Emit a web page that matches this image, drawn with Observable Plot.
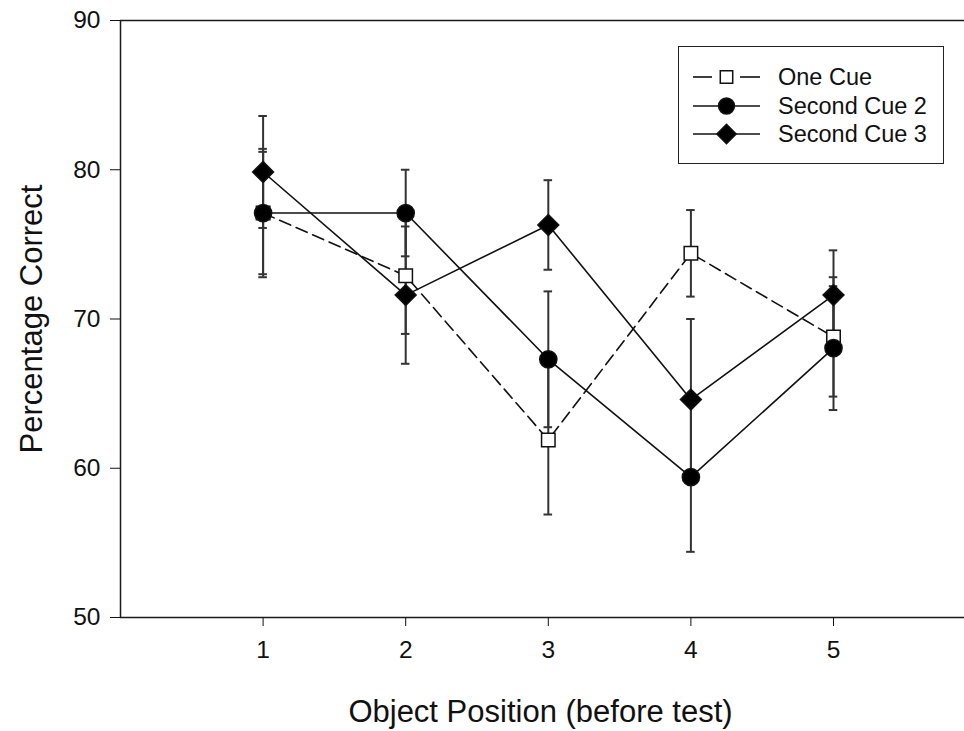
<!DOCTYPE html>
<html><head><meta charset="utf-8">
<script src="https://cdn.jsdelivr.net/npm/d3@7"></script>
<script src="https://cdn.jsdelivr.net/npm/@observablehq/plot@0.6"></script>
<style>
body{margin:0;background:#fff;font-family:"Liberation Sans",Arial,sans-serif}
#wrap{position:relative;width:964px;height:731px;overflow:hidden}
#legend{position:absolute;left:678px;top:46px;width:266px;height:118px;border:1.5px solid #222;background:#fff;box-sizing:border-box}
.row{position:absolute;left:0;height:28px;width:100%}
.row svg{position:absolute;left:13px;top:0}
.row span{position:absolute;left:99px;top:0;line-height:28px;font-size:23.5px;color:#111;white-space:nowrap}
</style></head>
<body><div id="wrap"><div id="chart"></div><div id="legend"></div></div>
<script>
// Data
const positions = [1, 2, 3, 4, 5];
const seriesNames = ["One Cue", "Second Cue 2", "Second Cue 3"];
const oneCue      = [77.1, 72.9, 61.9, 74.4, 68.8];
const oneCueErr   = [4.1, 3.9, 5.0, 2.9, 4.0];
const secondCue2    = [77.1, 77.1, 67.3, 59.4, 68.05];
const secondCue2Err = [4.3, 2.9, 4.55, 5.0, 4.15];
const secondCue3    = [79.85, 71.6, 76.3, 64.6, 71.6];
const secondCue3Err = [3.75, 4.6, 3.0, 5.4, 3.0];
const yTicks = [50, 60, 70, 80, 90];
const xTicks = [1, 2, 3, 4, 5];
const xTitle = "Object Position (before test)";
const yTitle = "Percentage Correct";

const styles = {
  "One Cue":      {symbol: "square",   r: 7.6, fill: "#fff", dash: "12,6"},
  "Second Cue 2": {symbol: "circle",   r: 8.6, fill: "#000", dash: null},
  "Second Cue 3": {symbol: "diamond2", r: 9.4, fill: "#000", dash: null}
};

const values = [oneCue, secondCue2, secondCue3];
const errs = [oneCueErr, secondCue2Err, secondCue3Err];
const table = [];
seriesNames.forEach((s, i) => positions.forEach((x, j) => {
  table.push({series: s, x, y: values[i][j], lo: values[i][j] - errs[i][j], hi: values[i][j] + errs[i][j]});
}));
const capHalf = 0.03;

const marks = [
  Plot.ruleY([yTicks[0], yTicks[yTicks.length - 1]], {stroke: "#1a1a1a", strokeWidth: 1.5}),
  Plot.ruleX([0], {stroke: "#1a1a1a", strokeWidth: 1.5}),
  Plot.axisY({ticks: yTicks, tickSize: 10, tickPadding: 10, fontSize: 24.5, label: null, tickFormat: d => d}),
  Plot.axisX({ticks: xTicks, tickSize: 9, tickPadding: 14, fontSize: 24.5, label: null, tickFormat: d => d}),
];
seriesNames.forEach(s => {
  const st = styles[s];
  marks.push(Plot.line(table.filter(d => d.series === s), {x: "x", y: "y", stroke: "#111", strokeWidth: 1.6, strokeDasharray: st.dash || undefined}));
});
marks.push(
  Plot.ruleX(table, {x: "x", y1: "lo", y2: "hi", stroke: "#333", strokeWidth: 2}),
  Plot.ruleY(table, {y: "hi", x1: d => d.x - capHalf, x2: d => d.x + capHalf, stroke: "#333", strokeWidth: 2}),
  Plot.ruleY(table, {y: "lo", x1: d => d.x - capHalf, x2: d => d.x + capHalf, stroke: "#333", strokeWidth: 2})
);
seriesNames.forEach(s => {
  const st = styles[s];
  marks.push(Plot.dot(table.filter(d => d.series === s), {x: "x", y: "y", symbol: st.symbol, r: st.r, fill: st.fill, stroke: "#111", strokeWidth: 1.5}));
});
marks.push(
  Plot.text([yTitle], {frameAnchor: "left", textAnchor: "middle", dx: -88, rotate: -90, fontSize: 31, fill: "#111"}),
  Plot.text([xTitle], {frameAnchor: "bottom", dy: 95, dx: -2, fontSize: 31, fill: "#111", lineAnchor: "middle"})
);

const chart = Plot.plot({
  width: 964, height: 731,
  marginTop: 20, marginBottom: 114, marginLeft: 120, marginRight: 0,
  style: {fontFamily: "'Liberation Sans', Arial, sans-serif", fontSize: "24.5px", color: "#111", background: "#fff", overflow: "hidden"},
  x: {domain: [0, 6], range: [120, 975.6]},
  y: {domain: [50, 90]},
  marks
});
document.getElementById("chart").appendChild(chart);

// Legend
const legend = document.getElementById("legend");
seriesNames.forEach((s, i) => {
  const st = styles[s];
  const row = document.createElement("div");
  row.className = "row";
  row.style.top = (16 + i * 28.5) + "px";
  const ns = "http://www.w3.org/2000/svg";
  const svg = document.createElementNS(ns, "svg");
  svg.setAttribute("width", 72); svg.setAttribute("height", 28);
  const g = d3.select(svg);
  if (st.dash) {
    g.append("line").attr("x1", 1).attr("x2", 20).attr("y1", 14).attr("y2", 14).attr("stroke", "#111").attr("stroke-width", 1.6);
    g.append("line").attr("x1", 48).attr("x2", 68).attr("y1", 14).attr("y2", 14).attr("stroke", "#111").attr("stroke-width", 1.6);
  } else {
    g.append("line").attr("x1", 1).attr("x2", 68).attr("y1", 14).attr("y2", 14).attr("stroke", "#111").attr("stroke-width", 1.6);
  }
  const sym = st.symbol === "square" ? d3.symbolSquare : st.symbol === "circle" ? d3.symbolCircle : d3.symbolDiamond2;
  g.append("path").attr("transform", "translate(34.5,14)")
    .attr("d", d3.symbol(sym, Math.PI * st.r * st.r * 0.85)())
    .attr("fill", st.fill).attr("stroke", "#111").attr("stroke-width", 1.5);
  row.appendChild(svg);
  const t = document.createElement("span");
  t.textContent = s;
  row.appendChild(t);
  legend.appendChild(row);
});
</script>
</body></html>
